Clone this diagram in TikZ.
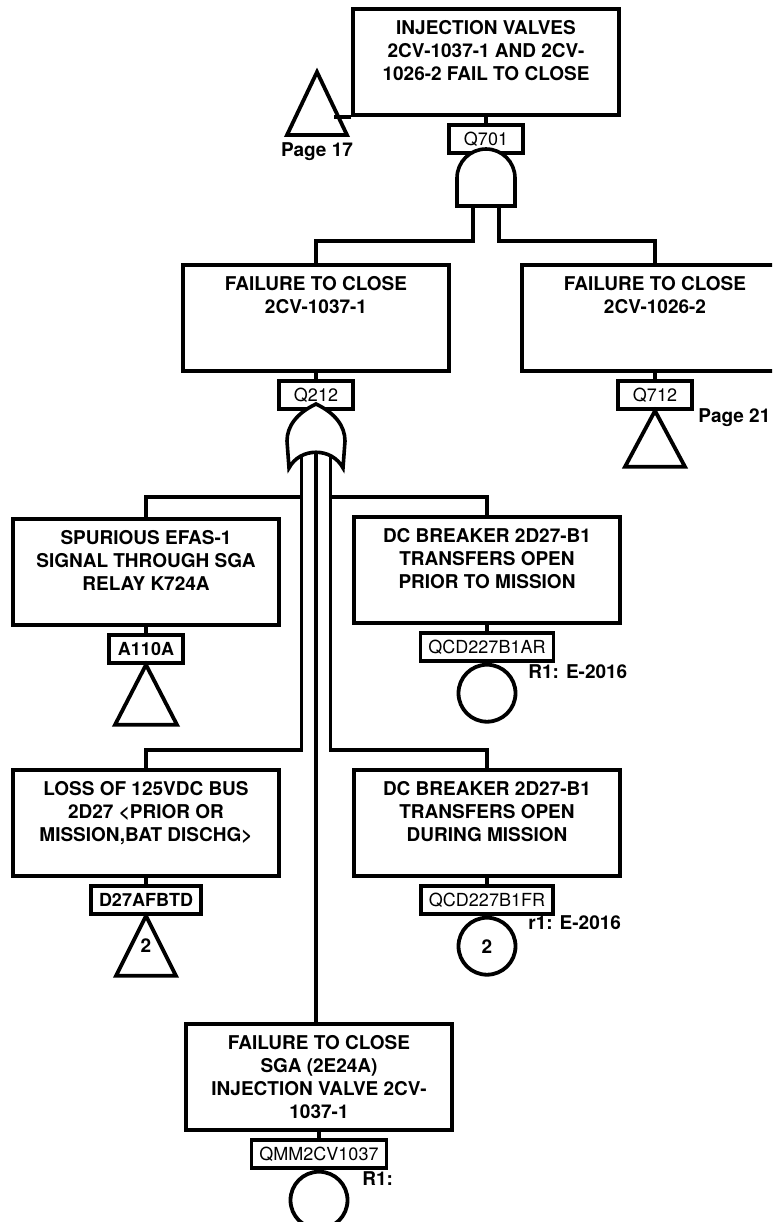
\documentclass[tikz,border=0pt]{standalone}
\usepackage{fontspec}
\setmainfont{TeX Gyre Heros}
\usetikzlibrary{positioning}
\tikzset{
  wire/.style={line width=1.8pt},
  evbox/.style={draw, line width=2pt, anchor=north, inner sep=0pt,
    font=\fontsize{9.5}{11.5}\selectfont\bfseries,
    execute at begin node={\begin{minipage}[t][53pt][t]{133pt}\centering\vspace*{5.5pt}},
    execute at end node={\end{minipage}}},
  idbox/.style={draw, line width=1.9pt, inner xsep=4pt, inner ysep=0pt,
    minimum height=14pt, minimum width=37pt, font=\fontsize{9}{10}\selectfont},
  basic/.style={draw, circle, line width=1.9pt, minimum size=28.5pt, inner sep=0pt,
    font=\fontsize{9.5}{11}\selectfont\bfseries},
  xfer/.style={line width=1.9pt, line join=miter},
  note/.style={font=\fontsize{9.5}{11}\selectfont\bfseries, inner sep=0pt},
}
\begin{document}
\begin{tikzpicture}[x=0.5pt, y=-0.5pt]
\useasboundingbox (0,0) rectangle (772,1222);
\clip (0,0) rectangle (772,1222);
% top event
\node[evbox] (top) at (486,7) {INJECTION VALVES\\2CV-1037-1 AND 2CV-\\1026-2 FAIL TO CLOSE};
\node[idbox, below=3pt of top] (q701) {Q701};
\draw[xfer] (317,72) -- (287,135) -- (347,135) -- cycle;
\draw[wire] (top.south west) -- ++(-17,0);
\node[note] (p17) at (317,152) {Page 17};
% and gate
\draw[wire, fill=white] (457,206) -- (457,178) .. controls (457,162) and (470,149) .. (486,149)
  .. controls (502,149) and (515,162) .. (515,178) -- (515,206) -- cycle;
\coordinate (andL) at (473,206);
\coordinate (andR) at (499,206);
% second level
\node[evbox] (fc1) at (316,263) {FAILURE TO CLOSE\\2CV-1037-1};
\node[evbox] (fc2) at (655,263) {FAILURE TO CLOSE\\2CV-1026-2};
\draw[wire] (andL) -- ++(0,35) -| (fc1.north);
\draw[wire] (andR) -- ++(0,35) -| (fc2.north);
\node[idbox, below=3pt of fc1] (q212) {Q212};
\node[idbox, below=3pt of fc2] (q712) {Q712};
\draw[xfer] (q712.south) -- ++(-30,56) -- ++(60,0) -- cycle;
\node[note, anchor=west] (p21) at (698,418) {Page 21};
% or gate inputs
\coordinate (orL) at (301.5,447);
\coordinate (orC) at (316,447);
\coordinate (orR) at (330.5,447);
\coordinate (jL) at (301.5,497);
\coordinate (jR) at (330.5,497);
\node[evbox] (efas) at (146,517) {SPURIOUS EFAS-1\\SIGNAL THROUGH SGA\\RELAY K724A};
\node[evbox] (dcpr) at (487,515) {DC BREAKER 2D27-B1\\TRANSFERS OPEN\\PRIOR TO MISSION};
\node[evbox] (bus) at (146,768) {LOSS OF 125VDC BUS\\2D27 <PRIOR OR\\MISSION,BAT DISCHG>};
\node[evbox] (dcdm) at (487,768) {DC BREAKER 2D27-B1\\TRANSFERS OPEN\\DURING MISSION};
\node[evbox] (sga) at (319,1022) {FAILURE TO CLOSE\\SGA (2E24A)\\INJECTION VALVE 2CV-\\1037-1};
\draw[wire] (orL) -- ++(0,303) -| (bus.north);
\draw[wire] (orR) -- ++(0,303) -| (dcdm.north);
\draw[wire] (jL) -| (efas.north);
\draw[wire] (jR) -| (dcpr.north);
\draw[wire] (orC) -- (orC |- sga.north);
% or gate
\draw[wire, fill=white] (316,404) .. controls (297,413) and (287,426) .. (287,441) -- (289,468)
  .. controls (300,447) and (332,447) .. (343,468) -- (345,441)
  .. controls (345,426) and (335,413) .. (316,404) -- cycle;
% box to id links
\foreach \b/\q in {top/q701, fc1/q212, fc2/q712}
  \draw[wire] (\b.south) -- (\q.north);
% basic events and transfers
\node[idbox, font=\fontsize{9}{10}\selectfont\bfseries, below=3pt of efas] (a110a) {A110A};
\draw[xfer] (a110a.south) -- ++(-31,60) -- ++(62,0) -- cycle;
\node[idbox, below=3pt of dcpr] (qcdar) {QCD227B1AR};
\node[basic, below=0pt of qcdar] (evar) {};
\node[note, anchor=west] (r1a) at (528,672) {R1: E-2016};
\node[idbox, font=\fontsize{9}{10}\selectfont\bfseries, below=3pt of bus] (d27) {D27AFBTD};
\draw[xfer] (d27.south) -- ++(-30,60) -- ++(60,0) -- cycle;
\node[note] (t2) at (146,946) {2};
\node[idbox, below=3pt of dcdm] (qcdfr) {QCD227B1FR};
\node[basic, below=0pt of qcdfr] (evfr) {2};
\node[note, anchor=west] (r1b) at (528,923) {r1: E-2016};
\node[idbox, below=3pt of sga] (qmm) {QMM2CV1037};
\node[basic, below=0pt of qmm] (evmm) {};
\node[note, anchor=west] (r1c) at (362,1179) {R1:};
\foreach \b/\q in {efas/a110a, dcpr/qcdar, bus/d27, dcdm/qcdfr, sga/qmm}
  \draw[wire] (\b.south) -- (\q.north);
\end{tikzpicture}
\end{document}
